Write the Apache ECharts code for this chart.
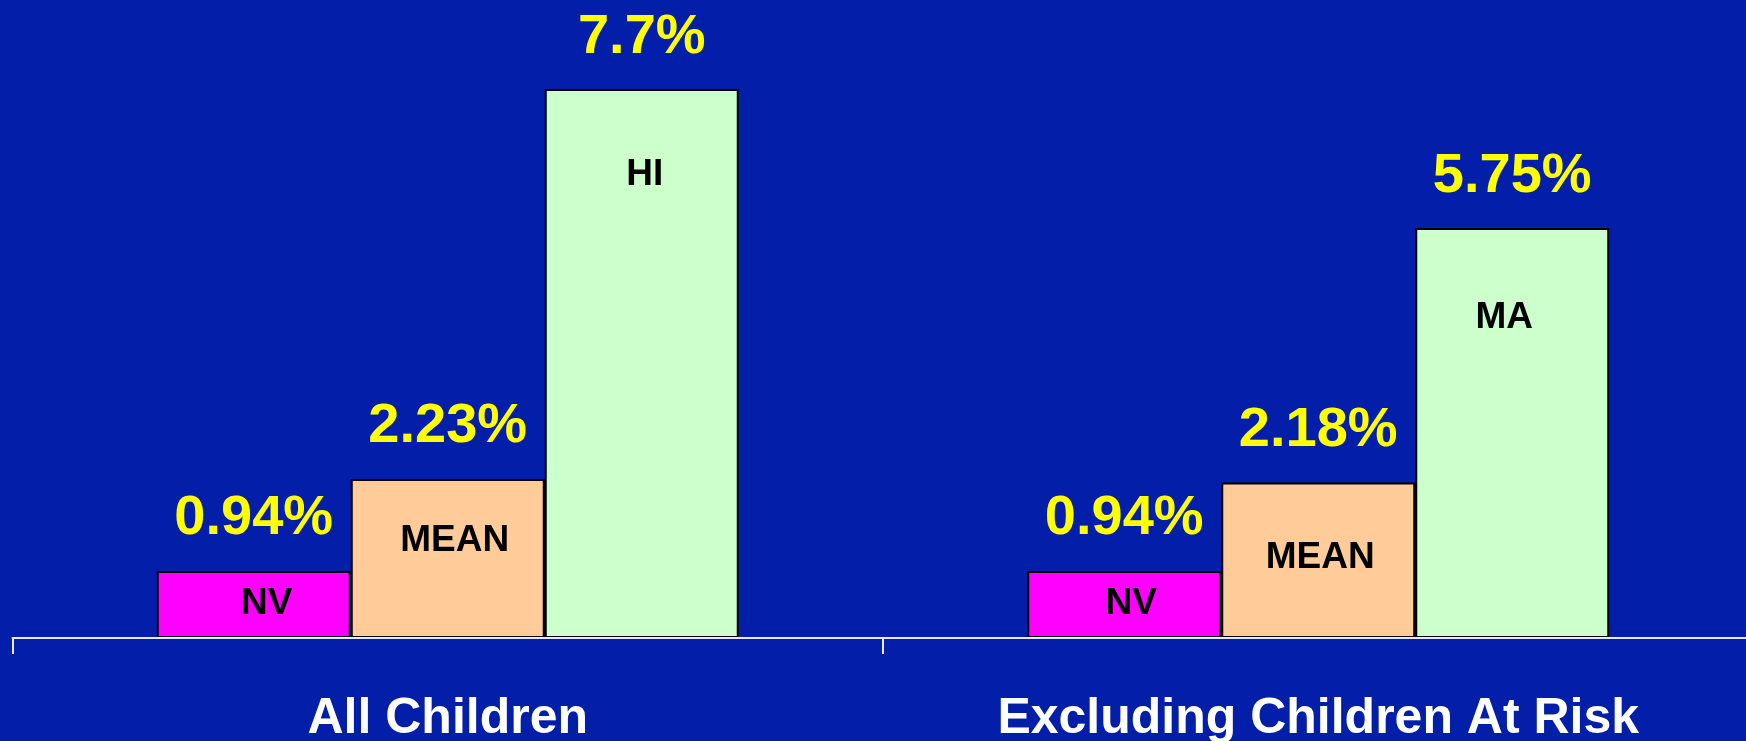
<!DOCTYPE html>
<html>
<head>
<meta charset="utf-8">
<script src="https://cdn.jsdelivr.net/npm/echarts@6/dist/echarts.min.js"></script>
<style>
  html, body { margin: 0; padding: 0; background: #031EA8; overflow: hidden; }
  #chart { width: 1746px; height: 741px; }
</style>
</head>
<body>
<div id="chart"></div>
<script>
// ---- data ----
var categories = ['All Children', 'Excluding Children At Risk'];
var nvValues = [0.94, 0.94];
var meanValues = [2.23, 2.18];
var highValues = [7.7, 5.75];
var nvNames = ['NV', 'NV'];
var meanNames = ['MEAN', 'MEAN'];
var highNames = ['HI', 'MA'];

// ---- styling ----
var FONT = '"Liberation Sans", Arial, Helvetica, sans-serif';
var BAR_W = 194;
var colors = ['#FF00FF', '#FFCC99', '#CCFFCC'];
// inner label placement per bar: [x offset, y from bar top]
var innerPos = [
  [[13, 33], [7, 33]],
  [[7, 62], [2, 75]],
  [[3, 86], [-8, 90]]
];

function valueSeries(name, values, color) {
  return {
    name: name,
    type: 'bar',
    xAxisIndex: 0,
    barWidth: BAR_W,
    barGap: 0,
    data: values,
    itemStyle: { color: color, borderColor: '#000', borderWidth: 2 },
    label: {
      show: true,
      position: 'top',
      distance: 24,
      formatter: function (p) { return p.value + '%'; },
      color: '#FFFF00',
      fontFamily: FONT,
      fontWeight: 'bold',
      fontSize: 56
    },
    silent: true,
    animation: false
  };
}

function nameSeries(values, names, pos) {
  return {
    type: 'bar',
    xAxisIndex: 1,
    barWidth: BAR_W,
    barGap: 0,
    data: values.map(function (v, i) {
      return {
        value: v,
        label: {
          position: ['50%', pos[i][1]],
          offset: [pos[i][0], 0],
          formatter: names[i]
        }
      };
    }),
    itemStyle: { color: 'rgba(0,0,0,0)', borderWidth: 0 },
    label: {
      show: true,
      align: 'center',
      verticalAlign: 'middle',
      color: '#000',
      fontFamily: FONT,
      fontWeight: 'bold',
      fontSize: 37
    },
    silent: true,
    animation: false,
    z: 5
  };
}

var chart = echarts.init(document.getElementById('chart'), null, { renderer: 'canvas' });
chart.setOption({
  backgroundColor: '#031EA8',
  animation: false,
  grid: {
    left: 12.5, right: -7.5, top: 0, bottom: 103,
    containLabel: false,
    outerBoundsMode: 'none'
  },
  xAxis: [
    {
      type: 'category',
      data: categories,
      boundaryGap: true,
      axisLine: { show: true, lineStyle: { color: '#E6E8F2', width: 2 } },
      axisTick: { show: true, length: 16, lineStyle: { color: '#E6E8F2', width: 2 } },
      axisLabel: {
        color: '#FFFFFF',
        fontFamily: FONT,
        fontWeight: 'bold',
        fontSize: 50,
        margin: 56,
        interval: 0
      },
      z: 10
    },
    {
      type: 'category',
      data: categories,
      show: false
    }
  ],
  yAxis: {
    type: 'value',
    min: 0,
    max: 8.95,
    show: false,
    splitLine: { show: false }
  },
  series: [
    valueSeries('NV', nvValues, colors[0]),
    valueSeries('MEAN', meanValues, colors[1]),
    valueSeries('HIGH', highValues, colors[2]),
    nameSeries(nvValues, nvNames, innerPos[0]),
    nameSeries(meanValues, meanNames, innerPos[1]),
    nameSeries(highValues, highNames, innerPos[2])
  ]
});
</script>
</body>
</html>
